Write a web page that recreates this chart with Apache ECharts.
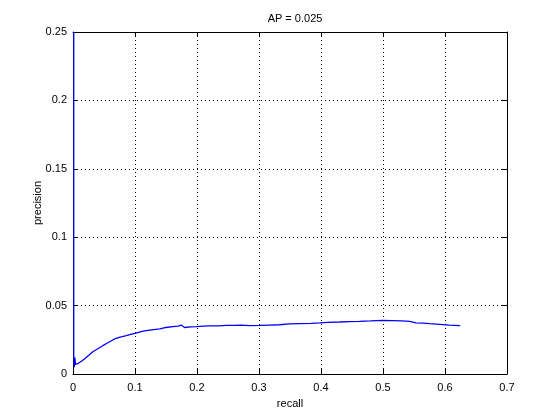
<!DOCTYPE html>
<html><head><meta charset="utf-8">
<script src="https://cdn.jsdelivr.net/npm/echarts@6/dist/echarts.min.js"></script>
<style>html,body{margin:0;padding:0;background:#fff}#c{width:560px;height:420px}</style>
</head><body><div id="c"></div>
<script>
const titleText = 'AP = 0.025';
const xName = 'recall';
const yName = 'precision';
const xTicks = [0, 0.1, 0.2, 0.3, 0.4, 0.5, 0.6, 0.7];
const yTicks = [0, 0.05, 0.1, 0.15, 0.2, 0.25];
const recall = [0.0012, 0.0012, 0.002, 0.003, 0.004, 0.005, 0.0075, 0.0105, 0.014, 0.0185, 0.025, 0.032, 0.04, 0.048, 0.057, 0.067, 0.076, 0.086, 0.093, 0.1, 0.11, 0.118, 0.13, 0.14, 0.15, 0.161, 0.17, 0.1745, 0.18, 0.19, 0.199, 0.21, 0.22, 0.235, 0.247, 0.26, 0.271, 0.285, 0.301, 0.317, 0.333, 0.349, 0.365, 0.384, 0.398, 0.411, 0.43, 0.446, 0.462, 0.48, 0.499, 0.515, 0.53, 0.543, 0.553, 0.565, 0.575, 0.591, 0.607, 0.6245];
const precision = [0.25, 0.0135, 0.005, 0.012, 0.007, 0.006, 0.0075, 0.0085, 0.0095, 0.011, 0.0135, 0.0163, 0.0185, 0.0207, 0.023, 0.0256, 0.027, 0.028, 0.029, 0.0297, 0.031, 0.0317, 0.0325, 0.033, 0.034, 0.0346, 0.035, 0.0358, 0.034, 0.0345, 0.0346, 0.035, 0.0352, 0.0352, 0.0355, 0.0355, 0.0358, 0.0354, 0.0355, 0.0358, 0.036, 0.0366, 0.0368, 0.037, 0.0374, 0.0378, 0.038, 0.0383, 0.0385, 0.0388, 0.0392, 0.039, 0.0388, 0.0385, 0.0373, 0.0372, 0.0368, 0.0363, 0.0357, 0.0354];

const font = 'Liberation Sans, Arial, sans-serif';
const lbl = {color:'#000', fontFamily:font, fontSize:11};
const chart = echarts.init(document.getElementById('c'), null, {renderer:'canvas'});
const grid = {left:73, top:32, right:53, bottom:46};
function xa(pos, show){
  return {type:'value', position:pos, min:0, max:0.7, interval:0.1,
    axisLine:{show:true, onZero:false, lineStyle:{color:'#000', width:1}},
    axisTick:{show:true, inside:true, length:5, lineStyle:{color:'#000'}},
    axisLabel:{show:show, ...lbl, margin:8, formatter:v=>String(+v.toFixed(2))},
    splitLine:{show:show, lineStyle:{color:'#000', type:[1,3], width:1}},
    name: show ? xName : '', nameLocation:'middle', nameGap:24, nameMoveOverlap:false, nameTextStyle:lbl};
}
function ya(pos, show){
  return {type:'value', position:pos, min:0, max:0.25, interval:0.05,
    axisLine:{show:true, onZero:false, lineStyle:{color:'#000', width:1}},
    axisTick:{show:true, inside:true, length:5, lineStyle:{color:'#000'}},
    axisLabel:{show:show, ...lbl, margin:6, formatter:v=>String(+v.toFixed(2))},
    splitLine:{show:show, lineStyle:{color:'#000', type:[1,3], width:1}},
    name: show ? yName : '', nameLocation:'middle', nameGap:30, nameMoveOverlap:false, nameTextStyle:lbl};
}
chart.setOption({
  animation:false,
  backgroundColor:'#fff',
  title:{text:titleText, left:290, textAlign:'center', top:8, textStyle:{...lbl, fontWeight:'normal'}},
  grid:grid,
  xAxis:[xa('bottom', true), xa('top', false)],
  yAxis:[ya('left', true), ya('right', false)],
  series:[{type:'line', xAxisIndex:0, yAxisIndex:0, data:recall.map((r,i)=>[r, precision[i]]),
    showSymbol:false, lineStyle:{color:'#0000ff', width:1.3}, clip:false}]
});
</script></body></html>
